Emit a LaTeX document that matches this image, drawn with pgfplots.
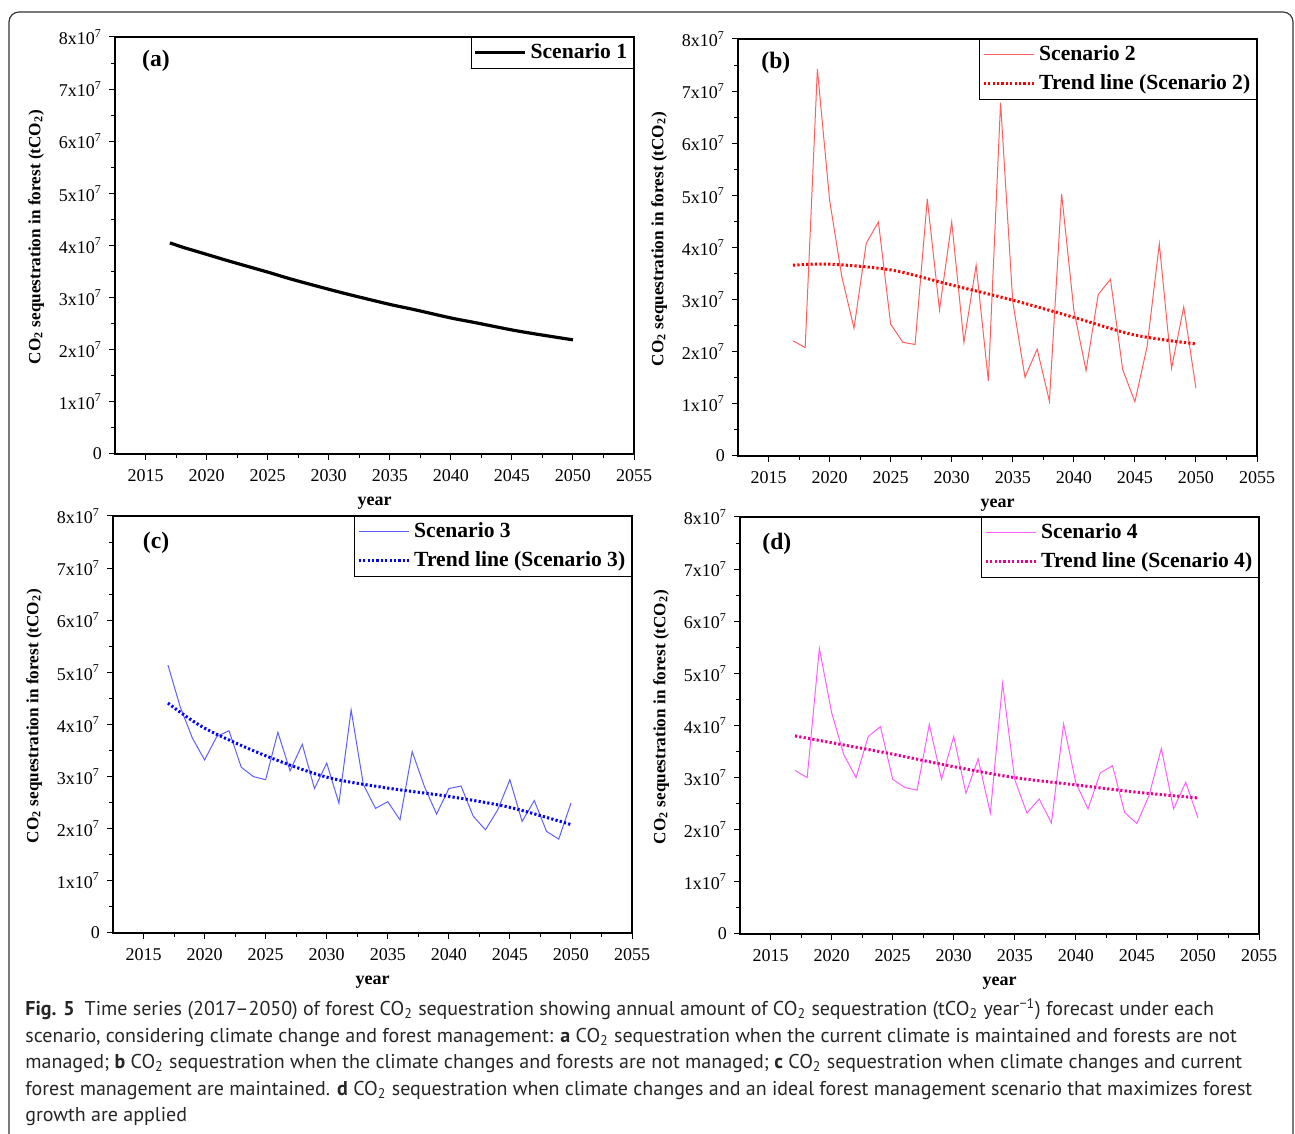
\documentclass[border=0pt]{standalone}
\usepackage{fontspec}
\setmainfont{Liberation Serif}
\newfontfamily\capfont{PT Sans}
\usepackage{graphicx}
\usepackage{pgfplots}
\pgfplotsset{compat=1.18}

\definecolor{lred}{RGB}{255,95,95}
\definecolor{lblue}{RGB}{95,95,255}
\definecolor{lmag}{RGB}{255,95,255}

% scenario series (tCO2 per year)
\pgfplotstableread{
year s2 s3 s4
2017 2.21e7 5.14e7 3.14e7
2018 2.08e7 4.34e7 3.00e7
2019 7.42e7 3.74e7 5.48e7
2020 4.91e7 3.32e7 4.25e7
2021 3.44e7 3.77e7 3.44e7
2022 2.45e7 3.88e7 3.00e7
2023 4.08e7 3.18e7 3.79e7
2024 4.49e7 3.00e7 3.98e7
2025 2.53e7 2.94e7 2.97e7
2026 2.18e7 3.85e7 2.81e7
2027 2.14e7 3.11e7 2.76e7
2028 4.93e7 3.62e7 4.02e7
2029 2.80e7 2.77e7 2.97e7
2030 4.49e7 3.26e7 3.79e7
2031 2.18e7 2.49e7 2.70e7
2032 3.66e7 4.28e7 3.36e7
2033 1.44e7 2.85e7 2.32e7
2034 6.78e7 2.39e7 4.81e7
2035 2.96e7 2.52e7 2.96e7
2036 1.51e7 2.17e7 2.32e7
2037 2.05e7 3.48e7 2.59e7
2038 1.05e7 2.81e7 2.13e7
2039 5.03e7 2.28e7 4.03e7
2040 2.80e7 2.77e7 2.90e7
2041 1.64e7 2.82e7 2.40e7
2042 3.10e7 2.24e7 3.09e7
2043 3.39e7 1.98e7 3.23e7
2044 1.66e7 2.36e7 2.33e7
2045 1.04e7 2.94e7 2.12e7
2046 2.10e7 2.14e7 2.66e7
2047 4.07e7 2.54e7 3.56e7
2048 1.68e7 1.95e7 2.40e7
2049 2.86e7 1.80e7 2.91e7
2050 1.30e7 2.49e7 2.23e7
}\scen

% scenario 1 curve
\pgfplotstableread{
year s1
2017 4.05e7
2018 3.97e7
2019 3.90e7
2020 3.83e7
2022 3.69e7
2025 3.49e7
2027 3.35e7
2030 3.16e7
2032 3.04e7
2035 2.87e7
2037 2.77e7
2040 2.61e7
2042 2.52e7
2045 2.38e7
2047 2.30e7
2050 2.19e7
}\sone

% trend lines
\pgfplotstableread{
year t2 t3 t4
2017 3.66e7 4.41e7 3.80e7
2020 3.68e7 3.93e7 3.67e7
2025 3.57e7 3.40e7 3.45e7
2030 3.28e7 2.99e7 3.21e7
2035 2.99e7 2.78e7 3.00e7
2040 2.66e7 2.62e7 2.86e7
2045 2.32e7 2.41e7 2.72e7
2050 2.15e7 2.08e7 2.61e7
}\trend

\pgfplotsset{
  panel/.style={
    scale only axis, width=259.5pt, height=208.5pt,
    anchor=south west,
    xmin=2012.5, xmax=2055, ymin=0, ymax=8e7,
    xtick={2015,2020,...,2055},
    xticklabels={2015,2020,2025,2030,2035,2040,2045,2050,2055},
    minor x tick num=1,
    ytick={0,1e7,2e7,3e7,4e7,5e7,6e7,7e7,8e7},
    yticklabels={0,1x10\textsuperscript{7},2x10\textsuperscript{7},3x10\textsuperscript{7},4x10\textsuperscript{7},5x10\textsuperscript{7},6x10\textsuperscript{7},7x10\textsuperscript{7},8x10\textsuperscript{7}},
    minor y tick num=1,
    scaled y ticks=false,
    tick pos=left, tick align=outside,
    major tick length=3pt, minor tick length=2pt,
    axis line style={line width=0.6pt},
    tick style={line width=0.5pt, black},
    ticklabel style={font=\fontsize{9}{10}\selectfont},
    xticklabel style={yshift=-1pt},
    xlabel={year},
    xlabel style={font=\bfseries\fontsize{9}{10}\selectfont, at={(axis description cs:0.5,-0.118)}, anchor=center},
    ylabel={CO\textsubscript{2} sequestration in forest (tCO\textsubscript{2})},
    ylabel style={font=\bfseries\fontsize{8.6}{10}\selectfont, at={(axis description cs:-0.152,0.52)}, anchor=center},
    legend style={draw=black, line width=0.4pt, at={(1,1)}, anchor=north east,
      font=\bfseries\fontsize{10.8}{13}\selectfont, inner sep=1.2pt,
      row sep=1.5pt, cells={anchor=west}},
    legend cell align=left,
    legend image code/.code={\draw[#1] (0pt,0pt) -- (25pt,0pt);},
  },
  trend/.style={line width=1.5pt, dash pattern=on 1.1pt off 1.1pt},
}

\begin{document}
\begin{tikzpicture}
\useasboundingbox (0,0) rectangle (647.5pt,567pt);
\clip (0,0) rectangle (647.5pt,567pt);
\draw[line width=0.6pt, black!80, rounded corners=5pt] (4.5pt,-10pt) rectangle (646.5pt,561pt);

% (a)
\begin{axis}[panel, at={(57.5pt,340pt)}]
\addplot[black, line width=1.6pt, smooth] table[x=year, y=s1] {\sone};
\addlegendentry{Scenario 1}
\node[font=\bfseries\fontsize{11.8}{13}\selectfont] at (axis description cs:0.079,0.942) {(a)};
\end{axis}

% (b)
\begin{axis}[panel, at={(369pt,339pt)}]
\addplot[lred, line width=0.5pt] table[x=year, y=s2] {\scen};
\addlegendentry{Scenario 2}
\addplot[red, trend, smooth] table[x=year, y=t2] {\trend};
\addlegendentry{Trend line (Scenario 2)}
\node[font=\bfseries\fontsize{11.8}{13}\selectfont] at (axis description cs:0.073,0.942) {(b)};
\end{axis}

% (c)
\begin{axis}[panel, at={(56.5pt,100.5pt)}]
\addplot[lblue, line width=0.5pt] table[x=year, y=s3] {\scen};
\addlegendentry{Scenario 3}
\addplot[blue, trend, smooth] table[x=year, y=t3] {\trend};
\addlegendentry{Trend line (Scenario 3)}
\node[font=\bfseries\fontsize{11.8}{13}\selectfont] at (axis description cs:0.083,0.935) {(c)};
\end{axis}

% (d)
\begin{axis}[panel, at={(370pt,100pt)}]
\addplot[lmag, line width=0.5pt] table[x=year, y=s4] {\scen};
\addlegendentry{Scenario 4}
\addplot[magenta, trend, smooth] table[x=year, y=t4] {\trend};
\addlegendentry{Trend line (Scenario 4)}
\node[font=\bfseries\fontsize{11.8}{13}\selectfont] at (axis description cs:0.071,0.935) {(d)};
\end{axis}

\node[anchor=north west, align=left, inner sep=0pt, text=black!85,
  font=\capfont\fontsize{10}{13.25}\selectfont] at (12.5pt,68pt) {%
\textbf{Fig. 5}\enspace Time series (2017–2050) of forest CO\textsubscript{2} sequestration showing annual amount of CO\textsubscript{2} sequestration (tCO\textsubscript{2} year\textsuperscript{−1}) forecast under each\\
scenario, considering climate change and forest management: \textbf{a} CO\textsubscript{2} sequestration when the current climate is maintained and forests are not\\
managed; \textbf{b} CO\textsubscript{2} sequestration when the climate changes and forests are not managed; \textbf{c} CO\textsubscript{2} sequestration when climate changes and current\\
forest management are maintained. \textbf{d} CO\textsubscript{2} sequestration when climate changes and an ideal forest management scenario that maximizes forest\\
growth are applied};
\end{tikzpicture}
\end{document}
